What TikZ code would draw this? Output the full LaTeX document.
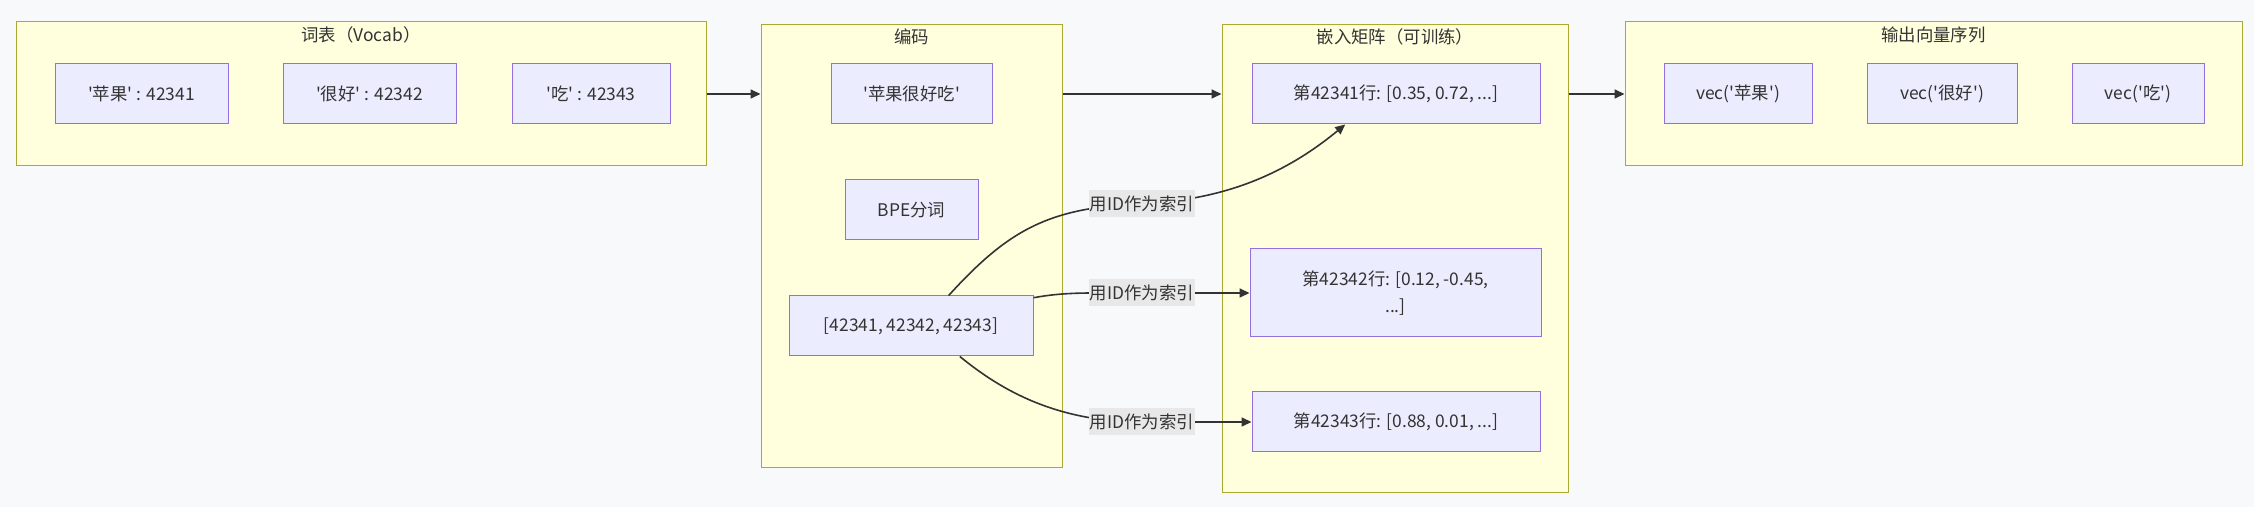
\documentclass[tikz,border=0pt]{standalone}
\usepackage{fontspec}
\newfontfamily\cjk{Noto Sans CJK SC}
\usetikzlibrary{arrows.meta}
\definecolor{canvas}{HTML}{F8F9FA}
\definecolor{clfill}{HTML}{FFFFDE}
\definecolor{cldraw}{HTML}{AAAA33}
\definecolor{ndfill}{HTML}{ECECFF}
\definecolor{nddraw}{HTML}{9370DB}
\definecolor{txt}{HTML}{333333}
\definecolor{lblfill}{HTML}{E8E8E8}
\newcommand{\apos}{\textquotesingle}

\begin{document}
\begin{tikzpicture}
[x=0.5pt,y=-0.5pt,
 every node/.style={font=\cjk\fontsize{8.7}{13.5}\selectfont,text=txt},
 cluster/.style={draw=cldraw,fill=clfill,line width=0.5pt,inner sep=0pt},
 box/.style={draw=nddraw,fill=ndfill,line width=0.5pt,inner sep=0pt,minimum height=30pt,align=center},
 lbl/.style={fill=lblfill,inner xsep=0.5pt,inner ysep=0pt,minimum width=52.5pt,minimum height=13.5pt},
 link/.style={draw=txt,line width=0.8pt,-{Triangle[length=5pt,width=4.5pt]}}]
\fill[canvas] (0,0) rectangle (2254,507);
\useasboundingbox (0,0) rectangle (2254,507);

% groups
\node[cluster,minimum width=345pt,minimum height=72pt] (voc) at (361,94) {};
\node[cluster,minimum width=150.5pt,minimum height=221.5pt] (enc) at (911.5,246.5) {};
\node[cluster,minimum width=173pt,minimum height=233.5pt] (emb) at (1395,258.5) {};
\node[cluster,minimum width=308.5pt,minimum height=72pt] (out) at (1933.5,94) {};
\node (vocT) at (361,35) {词表（Vocab）};
\node (encT) at (911.5,37) {编码};
\node (embT) at (1395,37) {嵌入矩阵（可训练）};
\node (outT) at (1933.5,35) {输出向量序列};

% vocab
\node[box,minimum width=86.5pt] (v1) at (141.5,94) {\apos{}苹果\apos{} : 42341};
\node[box,minimum width=86.5pt] (v2) at (369.5,94) {\apos{}很好\apos{} : 42342};
\node[box,minimum width=79pt] (v3) at (591,94) {\apos{}吃\apos{} : 42343};

% encoding
\node[box,minimum width=80.5pt] (e1) at (911.5,94) {\apos{}苹果很好吃\apos{}};
\node[box,minimum width=66.5pt] (e2) at (911.5,210) {BPE分词};
\node[box,minimum width=122pt] (e3) at (911,326) {[42341, 42342, 42343]};

% embedding rows
\node[box,minimum width=144pt] (m1) at (1396,94) {第42341行: [0.35, 0.72, ...]};
\node[box,minimum width=145.5pt,minimum height=44pt] (m2) at (1395.5,293) {第42342行: [0.12, -0.45,\\...]};
\node[box,minimum width=144pt] (m3) at (1396,422) {第42343行: [0.88, 0.01, ...]};

% output
\node[box,minimum width=74pt] (o1) at (1738,94) {vec(\apos{}苹果\apos{})};
\node[box,minimum width=75pt] (o2) at (1942,94) {vec(\apos{}很好\apos{})};
\node[box,minimum width=66pt] (o3) at (2138,94) {vec(\apos{}吃\apos{})};

\draw[link] (voc.east) -- (voc.east -| enc.west);
\draw[link] (enc.east |- e1) -- (emb.west |- e1);
\draw[link] (emb.east |- m1) -- (out.west |- m1);

\coordinate (c1) at (1142,203.5);
\coordinate (c2) at (1142,293);
\coordinate (c3) at (1142,422);
\draw[link] (e3.39) .. controls (1010,228) and (1050,208) .. (c1) .. controls (1230,200) and (1290,170) .. (m1.211);
\draw[link] (e3.13) .. controls (1065,292) and (1085,293) .. (c2) -- (m2.west);
\draw[link] (e3.-32) .. controls (995,385) and (1050,422) .. (c3) -- (m3.west);
\node[lbl] (l1) at (c1) {用ID作为索引};
\node[lbl] (l2) at (c2) {用ID作为索引};
\node[lbl] (l3) at (c3) {用ID作为索引};
\end{tikzpicture}
\end{document}
